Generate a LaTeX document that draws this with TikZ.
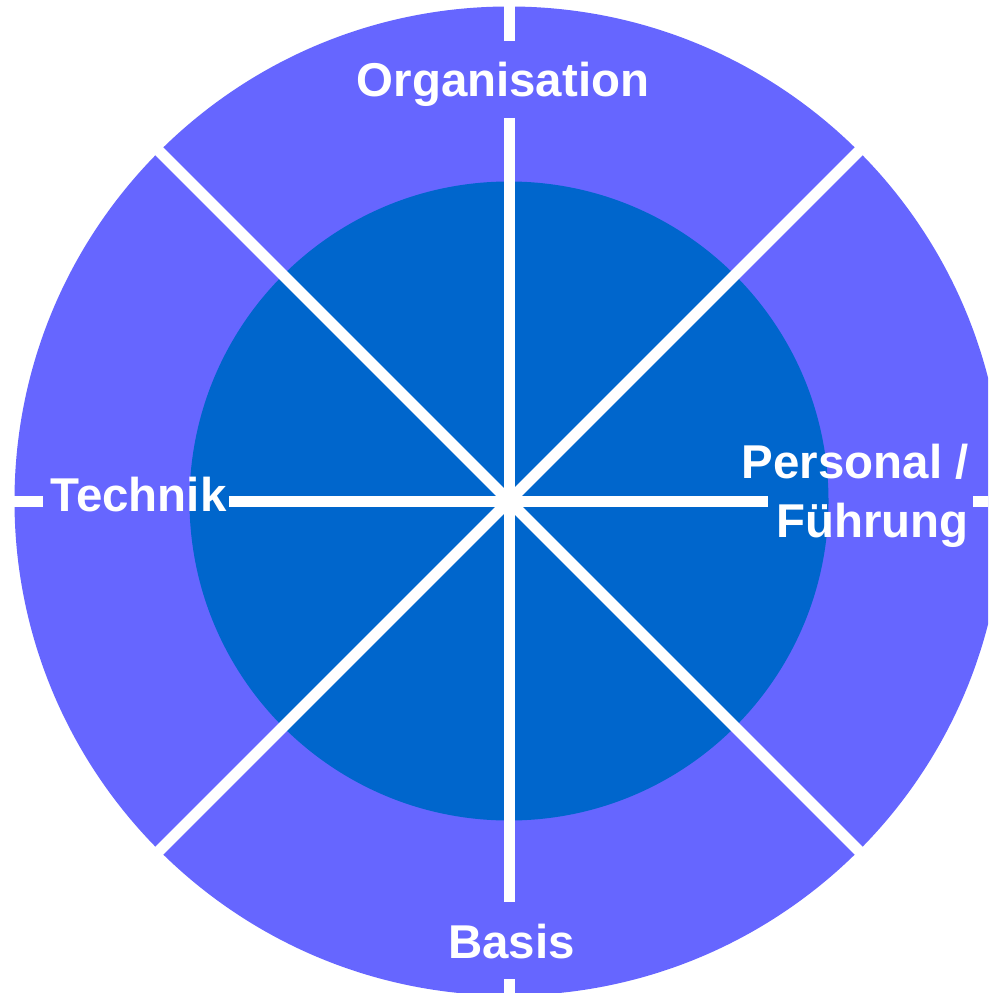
\documentclass[tikz,border=0pt]{standalone}
\usepackage{fontspec}
\setmainfont{Liberation Sans}
\definecolor{ring_blue}{RGB}{102, 102, 255}
\definecolor{core_blue}{RGB}{0, 102, 204}
\tikzstyle{wl}=[draw=white,line width=2.2mm]
\tikzstyle{lb}=[text=white,inner sep=0pt,
  font=\fontsize{27}{33.5}\selectfont\bfseries]

\begin{document}
\begin{tikzpicture}[x=0.2mm,y=-0.2mm]
    \useasboundingbox (0,0) rectangle (988,993);
    \clip (0,0) rectangle (988,993);
    \coordinate (c) at (509,501);
    \fill [ring_blue] (c) circle [radius=98.9mm];
    \fill [core_blue] (c) circle [radius=63.9mm];
    \coordinate (nw) at (149,141);
    \coordinate (ne) at (869,141);
    \coordinate (sw) at (149,861);
    \coordinate (se) at (869,861);
    \coordinate (t0) at (509,-5);
    \coordinate (t1) at (509,41);
    \coordinate (t2) at (509,118);
    \coordinate (b0) at (509,1000);
    \coordinate (b1) at (509,979);
    \coordinate (b2) at (509,902);
    \coordinate (l0) at (-5,501);
    \coordinate (l1) at (43,501);
    \coordinate (l2) at (229,501);
    \coordinate (r0) at (995,501);
    \coordinate (r1) at (973,501);
    \coordinate (r2) at (768,501);
    \draw [style=wl] (nw) to (se);
    \draw [style=wl] (ne) to (sw);
    \draw [style=wl] (t0) to (t1);
    \draw [style=wl] (t2) to (b2);
    \draw [style=wl] (b1) to (b0);
    \draw [style=wl] (l0) to (l1);
    \draw [style=wl] (l2) to (r2);
    \draw [style=wl] (r1) to (r0);
    \node [style=lb,anchor=base] (org) at (503,97) {Organisation};
    \node [style=lb,anchor=base] (tech) at (138.5,511) {Technik};
    \node [style=lb,anchor=base] (bas) at (511.5,958) {Basis};
    \node [style=lb,align=right,anchor=base east] (pers) at (969,537) {Personal /\\Führung};
  \end{tikzpicture}
\end{document}
